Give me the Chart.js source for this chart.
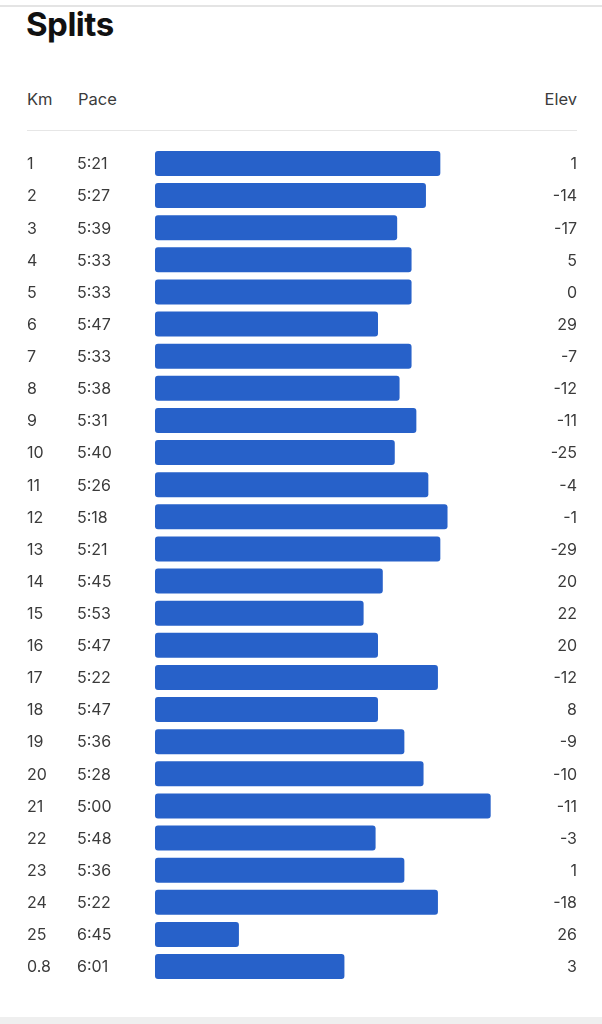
<!DOCTYPE html>
<html>
<head>
<meta charset="utf-8">
<script src="https://cdn.jsdelivr.net/npm/chart.js@4/dist/chart.umd.min.js"></script>
<style>
  html, body { margin: 0; padding: 0; background: #fff; }
  body { width: 602px; height: 1024px; position: relative; overflow: hidden; font-family: Inter, "Noto Sans", sans-serif; }
  .topline { position: absolute; left: 0; top: 5px; width: 602px; height: 2px; background: #e4e4e4; }
  .bottomband { position: absolute; left: 0; top: 1017px; width: 602px; height: 7px; background: #efefef; }
  h1 { position: absolute; left: 26px; top: 8px; margin: 0; font-size: 33px; line-height: 33px; font-weight: 700; color: #111; letter-spacing: -0.5px; }
  .hdr { position: absolute; top: 91px; font-size: 16.5px; line-height: 16px; color: #3b3b3b; }
  .divider { position: absolute; left: 27px; top: 130px; width: 550px; height: 1px; background: #e6e6e6; }
  #wrap { position: absolute; left: 0; top: 0; width: 602px; height: 1024px; }
</style>
</head>
<body>
<div class="topline"></div>
<h1>Splits</h1>
<div class="hdr" style="left:27px">Km</div>
<div class="hdr" style="left:78px">Pace</div>
<div class="hdr" style="right:25px">Elev</div>
<div class="divider"></div>
<div id="wrap"><canvas id="splits"></canvas></div>
<div class="bottomband"></div>

<script>
// split data
const kms = ["1", "2", "3", "4", "5", "6", "7", "8", "9", "10", "11", "12", "13",
  "14", "15", "16", "17", "18", "19", "20", "21", "22", "23", "24", "25", "0.8"];
const paces = ["5:21", "5:27", "5:39", "5:33", "5:33", "5:47", "5:33", "5:38", "5:31",
  "5:40", "5:26", "5:18", "5:21", "5:45", "5:53", "5:47", "5:22", "5:47", "5:36",
  "5:28", "5:00", "5:48", "5:36", "5:22", "6:45", "6:01"];
const elevs = [1, -14, -17, 5, 0, 29, -7, -12, -11, -25, -4, -1, -29, 20, 22, 20,
  -12, 8, -9, -10, -11, -3, 1, -18, 26, 3];

// pace in seconds, parsed from the strings above
const paceSec = paces.map(p => {
  const parts = p.split(":");
  return parseInt(parts[0]) * 60 + parseInt(parts[1]);
});

const slowest = 440; // bars grow from here (left edge)
const fastest = 264;

// draws the km / pace / elev columns next to each bar
const rowText = {
  id: "rowText",
  afterDatasetsDraw(chart) {
    const ctx = chart.ctx;
    const y = chart.scales.y;
    ctx.save();
    ctx.font = "16px Inter, 'Noto Sans', sans-serif";
    ctx.fillStyle = "#3b3b3b";
    ctx.textBaseline = "middle";
    kms.forEach((k, i) => {
      const py = y.getPixelForValue(i) + 1;
      ctx.textAlign = "left";
      ctx.fillText(k, 27, py);
      ctx.fillText(paces[i], 77, py);
      ctx.textAlign = "right";
      ctx.fillText(String(elevs[i]), 577, py);
    });
    ctx.restore();
  }
};

new Chart(document.getElementById("splits"), {
  type: "bar",
  data: {
    labels: kms,
    datasets: [{
      label: "Pace",
      data: paceSec,
      base: slowest,
      backgroundColor: "#2761c9",
      borderWidth: 0,
      borderRadius: 3,
      borderSkipped: false,
      barPercentage: 0.78,
      categoryPercentage: 1
    }]
  },
  options: {
    indexAxis: "y",
    responsive: true,
    maintainAspectRatio: false,
    animation: false,
    layout: {
      padding: { left: 155, right: 25, top: 147.4, bottom: 41.4 }
    },
    scales: {
      x: { display: false, reverse: true, min: fastest, max: slowest },
      y: { display: false }
    },
    plugins: {
      legend: { display: false },
      tooltip: { enabled: false }
    }
  },
  plugins: [rowText]
});
</script>
</body>
</html>
